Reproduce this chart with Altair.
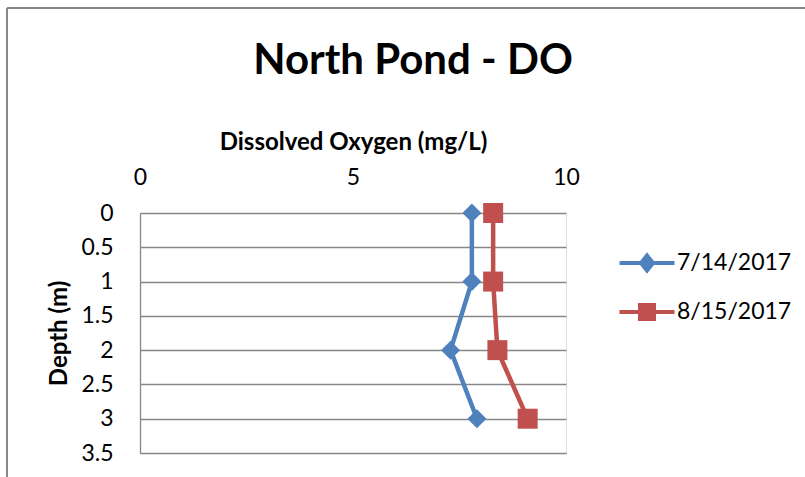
import altair as alt
import pandas as pd

depths = [0, 1, 2, 3]
do_jul = [7.79, 7.79, 7.29, 7.91]
do_aug = [8.29, 8.29, 8.39, 9.10]
series_names = ["7/14/2017", "8/15/2017"]
colors = ["#4F81BD", "#C0504D"]
marker_shapes = ["diamond", "square"]
marker_sizes = [361, 400]
x_ticks = [0, 5, 10]
y_ticks = [0, 0.5, 1, 1.5, 2, 2.5, 3, 3.5]

rows = []
for d, v in zip(depths, do_jul):
    rows.append({"series": series_names[0], "depth": d, "do": v})
for d, v in zip(depths, do_aug):
    rows.append({"series": series_names[1], "depth": d, "do": v})
df = pd.DataFrame(rows)

FONT = "Lato"
GRID = "#888888"

x_enc = alt.X("do:Q", scale=alt.Scale(domain=[0, 10], nice=False),
              axis=alt.Axis(orient="top", values=x_ticks, title="Dissolved Oxygen (mg/L)",
                            grid=False, domain=False, ticks=False, tickSize=0,
                            labelFlush=False, labelPadding=24, titlePadding=12,
                            labelFontSize=23, labelFont=FONT, labelColor="#000000",
                            titleFontSize=24, titleFont=FONT, titleFontWeight="bold",
                            titleColor="#000000"))
y_enc = alt.Y("depth:Q", scale=alt.Scale(domain=[0, 3.5], reverse=True, nice=False),
              axis=alt.Axis(values=y_ticks, format="~g", title="Depth (m)",
                            grid=True, gridColor=GRID, gridWidth=1.3,
                            domain=True, domainColor=GRID, domainWidth=1.3,
                            ticks=False, tickSize=0, labelPadding=27, titlePadding=9,
                            labelFontSize=23, labelFont=FONT, labelColor="#000000",
                            titleFontSize=24, titleFont=FONT, titleFontWeight="bold",
                            titleColor="#000000"))

leg_paths = [
    "M-2.75,0H2.75M-0.6,0L0,-0.75L0.6,0L0,0.75Z",
    "M-2.75,0H2.75M-0.7,-0.7H0.7V0.7H-0.7Z",
]
legend_y = [38, 87]

layers = []
for i, name in enumerate(series_names):
    sub = alt.Chart(df).transform_filter(alt.datum.series == name)
    line = sub.mark_line(strokeWidth=4.5).encode(
        x=x_enc, y=y_enc,
        stroke=alt.Stroke("series:N", scale=alt.Scale(domain=[name], range=[colors[i]]),
                          legend=alt.Legend(title=None, orient="none", legendX=495,
                                            legendY=legend_y[i],
                                            labelFont=FONT, labelFontSize=23,
                                            labelColor="#000000", labelOffset=18,
                                            padding=0, symbolType=leg_paths[i],
                                            symbolFillColor=colors[i],
                                            symbolStrokeWidth=4, symbolSize=400)),
        order="depth:Q",
    )
    pts = sub.mark_point(filled=True, opacity=1, shape=marker_shapes[i],
                         size=marker_sizes[i], color=colors[i]).encode(x=x_enc, y=y_enc)
    layers.append((line, pts))

border_df = pd.DataFrame({"k": [0]})
border_left = alt.Chart(border_df).mark_rule(color=GRID, strokeWidth=2).encode(
    x=alt.value(-133), y=alt.value(-205), y2=alt.value(270))
border_top = alt.Chart(border_df).mark_rule(color=GRID, strokeWidth=2).encode(
    x=alt.value(-133), x2=alt.value(670), y=alt.value(-205))

chart = alt.layer(
    border_left, border_top,
    layers[0][0], layers[1][0], layers[0][1], layers[1][1],
).resolve_scale(stroke="independent").resolve_legend(stroke="independent").properties(
    width=426, height=240,
    title=alt.TitleParams("North Pond - DO", font=FONT, fontSize=42, fontWeight="bold",
                          color="#000000", anchor="middle", dx=60, offset=-76),
    autosize=alt.AutoSizeParams(type="none"),
    padding={"left": 140, "top": 213, "right": 239, "bottom": 24},
).configure_view(stroke=None).configure(background="white")

chart.save("out.html", embed_options={"renderer": "svg", "actions": False})
